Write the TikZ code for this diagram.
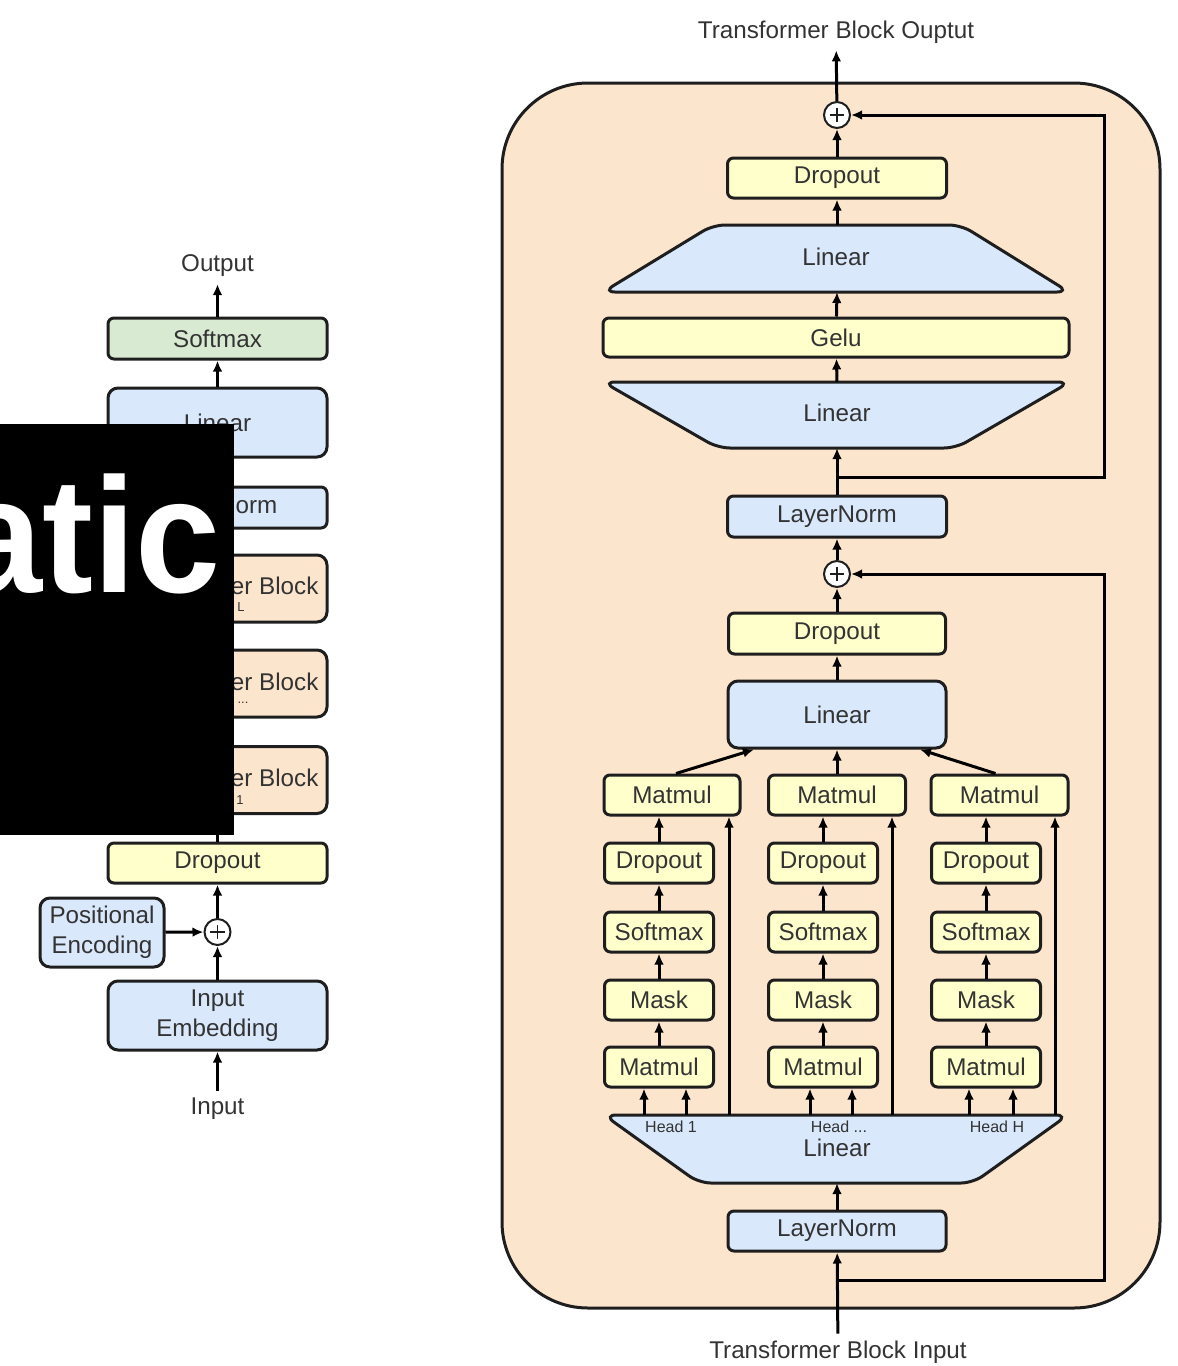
\documentclass[tikz,border=0pt]{standalone}
\usepackage{fontspec}
\setmainfont{Liberation Sans}
\usetikzlibrary{arrows.meta,calc}
\definecolor{peach}{HTML}{FCE5CD}
\definecolor{lblue}{HTML}{DAE8FC}
\definecolor{lyel}{HTML}{FFFFCC}
\definecolor{lgreen}{HTML}{D9EAD3}
\definecolor{txt}{HTML}{333333}
\definecolor{edge}{HTML}{1E1E1E}
\tikzset{
  lbl/.style={font=\fontsize{12.1}{15}\selectfont, text=txt},
  small/.style={font=\fontsize{8}{9}\selectfont, text=txt},
  tiny/.style={font=\fontsize{6.5}{8}\selectfont, text=txt},
  box/.style={draw=edge, line width=1.5pt, rounded corners=3pt, inner sep=0pt, lbl},
  tall/.style={rounded corners=5pt},
  ybox/.style={box, fill=lyel},
  bbox/.style={box, fill=lblue},
  obox/.style={box, fill=peach},
  gbox/.style={box, fill=lgreen},
  trap/.style={draw=edge, line width=1.5pt, fill=lblue, rounded corners=6pt},
  conn/.style={draw=black, line width=1.5pt, -{Latex[length=5.5pt,width=4.8pt]}},
  plusnode/.style={circle, draw=edge, fill=white, line width=1pt, minimum size=13pt, inner sep=0pt,
    path picture={
      \draw[line width=0.8pt, edge]
        ($(path picture bounding box.center)+(-3.6pt,0)$) -- ($(path picture bounding box.center)+(3.6pt,0)$)
        ($(path picture bounding box.center)+(0,-3.6pt)$) -- ($(path picture bounding box.center)+(0,3.6pt)$);
    }},
}
\begin{document}
\begin{tikzpicture}[x=0.5pt,y=-0.5pt]
\useasboundingbox (0,0) rectangle (1178,1366);

% ================= left column =================
\node[lbl] (outL) at (217.5,266) {Output};
\node[gbox, minimum width=109.5pt, minimum height=20.5pt] (softL) at (217.5,338.5) {Softmax};
\node[bbox, tall, minimum width=109.5pt, minimum height=34.5pt] (linL) at (217.5,422.5) {Linear};
\node[bbox, minimum width=109.5pt, minimum height=20.5pt] (lnL) at (217.5,507.5) {LayerNorm};
\node[obox, tall, minimum width=109.5pt, minimum height=33.5pt] (tbL) at (217.5,588.5) {};
\node[lbl] (tbLt) at (220,586) {Transformer Block};
\node[tiny] (tbLs) at (241,607) {L};
\node[obox, tall, minimum width=109.5pt, minimum height=33.5pt] (tbM) at (217.5,683.5) {};
\node[lbl] (tbMt) at (220,682) {Transformer Block};
\node[tiny] (tbMs) at (243,703) {...};
\node[obox, tall, minimum width=109.5pt, minimum height=33.5pt] (tb1) at (217.5,780) {};
\node[lbl] (tb1t) at (220,778) {Transformer Block};
\node[tiny] (tb1s) at (240,800) {1};
\node[ybox, minimum width=109.5pt, minimum height=20pt] (dropL) at (217.5,863) {Dropout};
\node[plusnode] (plusL) at (217.5,932) {};
\node[bbox, tall, minimum width=62pt, minimum height=34.5pt, align=center] (pos) at (102,932.5) {Positional\\Encoding};
\node[bbox, tall, minimum width=109.5pt, minimum height=34.5pt, align=center] (emb) at (217.5,1015.5) {Input\\Embedding};
\node[lbl] (inL) at (217.5,1109) {Input};

\draw[conn] (softL) -- (outL);
\draw[conn] (linL) -- (softL);
\draw[conn] (lnL) -- (linL);
\draw[conn] (tbL) -- (lnL);
\draw[conn] (tbM) -- (tbL);
\draw[conn] (tb1) -- (tbM);
\draw[conn] (dropL) -- (tb1);
\draw[conn] (plusL) -- (dropL);
\draw[conn] (emb) -- (plusL);
\draw[conn] (pos) -- (plusL);
\draw[conn] (inL) -- (emb);

% ================= right: transformer block =================
\draw[draw=edge, line width=1.5pt, fill=peach, rounded corners=43pt] (502,83) rectangle (1160,1308);

\node[lbl] (outR) at (836,32) {Transformer Block Ouptut};
\node[plusnode] (plus1) at (837,115) {};
\node[ybox, minimum width=109.5pt, minimum height=20pt] (drop1) at (837,178) {Dropout};

% upper linear (narrow top)
\draw[trap] (603,292) -- (713,225) -- (961,225) -- (1069,292) -- cycle;
\node[lbl] (ffup) at (836,257) {Linear};
\coordinate (ffupT) at (837,225);
\coordinate (ffupB) at (837,292);

\node[ybox, minimum width=233pt, minimum height=19.5pt] (gelu) at (836,337.5) {Gelu};

% lower linear (narrow bottom)
\draw[trap] (603,382) -- (1070,382) -- (956,448) -- (718,448) -- cycle;
\node[lbl] (ffdn) at (837,413) {Linear};
\coordinate (ffdnT) at (837,382);
\coordinate (ffdnB) at (837,448);

\node[bbox, minimum width=109.5pt, minimum height=20.5pt] (ln2) at (837,516.5) {LayerNorm};
\coordinate (j1) at (837,477);
\node[plusnode] (plus2) at (837,574) {};
\node[ybox, minimum width=108.5pt, minimum height=20.5pt] (drop2) at (837,633.5) {Dropout};
\node[bbox, tall, minimum width=109pt, minimum height=33.5pt] (mlin) at (837,714.5) {Linear};

% attention heads
\node[ybox, minimum width=68pt, minimum height=20pt] (mmA) at (672,795) {Matmul};
\node[ybox, minimum width=68.5pt, minimum height=20pt] (mmB) at (837,795) {Matmul};
\node[ybox, minimum width=68.5pt, minimum height=20pt] (mmC) at (999.5,795) {Matmul};

\foreach \c/\x in {A/659,B/823,C/986}{
  \node[ybox, minimum width=54.5pt, minimum height=20pt] (d\c) at (\x,863) {Dropout};
  \node[ybox, minimum width=54.5pt, minimum height=20pt] (s\c) at (\x,932) {Softmax};
  \node[ybox, minimum width=54.5pt, minimum height=20pt] (k\c) at (\x,1000) {Mask};
  \node[ybox, minimum width=54.5pt, minimum height=20pt] (m\c) at (\x,1067) {Matmul};
  \draw[conn] (m\c) -- (k\c);
  \draw[conn] (k\c) -- (s\c);
  \draw[conn] (s\c) -- (d\c);
}
\draw[conn] (dA.north) -- (dA.north |- mmA.south);
\draw[conn] (dB.north) -- (dB.north |- mmB.south);
\draw[conn] (dC.north) -- (dC.north |- mmC.south);

% head linear
\draw[trap] (604,1115) -- (1068,1115) -- (973,1183) -- (699,1183) -- cycle;
\node[small] (h1) at (671,1127) {Head 1};
\node[small] (h2) at (839,1127) {Head ...};
\node[small] (h3) at (997,1127) {Head H};
\node[lbl] (hlin) at (837,1148) {Linear};
\coordinate (hlB) at (837,1183);
\foreach \n/\x in {a1/644,a2/686,b1/810,b2/852,c1/969,c2/1013,la/729,lb/892,lc/1055}{
  \coordinate (t\n) at (\x,1115);
}
\draw[conn] (ta1) -- (ta1 |- mA.south);
\draw[conn] (ta2) -- (ta2 |- mA.south);
\draw[conn] (tb1) -- (tb1 |- mB.south);
\draw[conn] (tb2) -- (tb2 |- mB.south);
\draw[conn] (tc1) -- (tc1 |- mC.south);
\draw[conn] (tc2) -- (tc2 |- mC.south);
\draw[conn] (tla) -- (tla |- mmA.south);
\draw[conn] (tlb) -- (tlb |- mmB.south);
\draw[conn] (tlc) -- (tlc |- mmC.south);

\node[bbox, minimum width=109pt, minimum height=20pt] (lnb) at (837,1231) {LayerNorm};
\coordinate (j2) at (837,1280);
\node[lbl] (inR) at (838,1352) {Transformer Block Input};

% main-line connectors
\draw[conn] (plus1) -- (outR);
\draw[conn] (drop1) -- (plus1);
\draw[conn] (ffupT) -- (drop1);
\draw[conn] (gelu) -- (ffupB);
\draw[conn] (ffdnT) -- (gelu);
\draw[conn] (ln2) -- (ffdnB);
\draw[conn] (plus2) -- (ln2);
\draw[conn] (drop2) -- (plus2);
\draw[conn] (mlin) -- (drop2);
\draw[conn] (mmB) -- (mlin);
\draw[conn] ([xshift=2pt]mmA.north) -- ([xshift=-41.5pt]mlin.south);
\draw[conn] ([xshift=-2pt]mmC.north) -- ([xshift=41.5pt]mlin.south);
\draw[conn] (lnb) -- (hlB);
\draw[conn] (inR) -- (lnb);

% residual connections
\draw[conn] (j1) -- ++(267,0) |- (plus1);
\draw[conn] (j2) -- ++(267,0) |- (plus2);

% ================= black overlay =================
\fill[black] (0,424) rectangle (234,835);
\begin{scope}
  \clip (0,424) rectangle (234,835);
  \node[anchor=base east, inner sep=0pt, text=white,
        font=\fontsize{91}{100}\selectfont\bfseries] (ovl) at (221,592) {\scalebox{0.84}[0.9]{atic}};
\end{scope}
\end{tikzpicture}
\end{document}
